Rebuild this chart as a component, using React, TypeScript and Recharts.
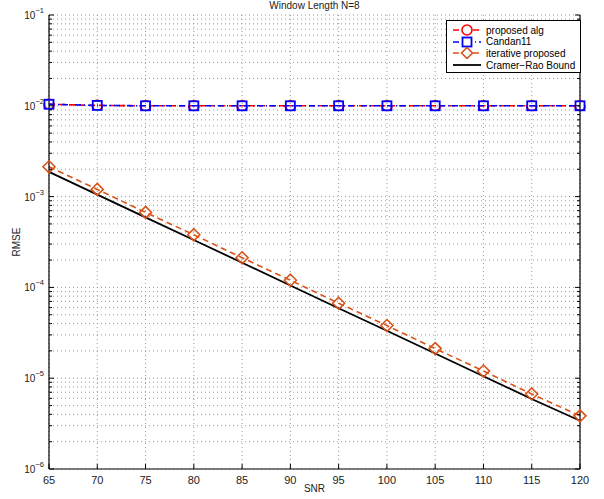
import React from 'react';
import { LineChart, Line, XAxis, YAxis, CartesianGrid } from 'recharts';

document.body.style.margin = '0';

const snr = [65, 70, 75, 80, 85, 90, 95, 100, 105, 110, 115, 120];
const proposedAlg = [1.04e-2, 1.01e-2, 1.0e-2, 1.0e-2, 1.0e-2, 1.0e-2, 1.0e-2, 1.0e-2, 1.0e-2, 1.0e-2, 1.0e-2, 1.0e-2];
const candan11 = [1.04e-2, 1.01e-2, 1.0e-2, 1.0e-2, 1.0e-2, 1.0e-2, 1.0e-2, 1.0e-2, 1.0e-2, 1.0e-2, 1.0e-2, 1.0e-2];
const iterativeProposed = [2.13e-3, 1.2e-3, 6.7e-4, 3.8e-4, 2.12e-4, 1.2e-4, 6.7e-5, 3.8e-5, 2.12e-5, 1.2e-5, 6.7e-6, 3.85e-6];
const crb = [1.87e-3, 1.05e-3, 5.9e-4, 3.33e-4, 1.87e-4, 1.05e-4, 5.9e-5, 3.33e-5, 1.87e-5, 1.05e-5, 5.9e-6, 3.4e-6];

const xTicks = [65, 70, 75, 80, 85, 90, 95, 100, 105, 110, 115, 120];
const decades = [1e-6, 1e-5, 1e-4, 1e-3, 1e-2, 1e-1];
const minorSteps = [1, 2, 3, 4, 5, 6, 7, 8, 9];
const yTicks = decades
  .flatMap((d) => minorSteps.map((m) => m * d))
  .filter((v) => v <= 1e-1 * 1.0001);

const RED = '#ff0000';
const BLUE = '#0000ff';
const ORANGE = '#d95319';
const FONT = '"Liberation Sans", Arial, Helvetica, sans-serif';

const data = snr.map((s, i) => ({
  snr: s,
  proposed: proposedAlg[i],
  candan: candan11[i],
  iterative: iterativeProposed[i],
  crb: crb[i],
}));

const isDecade = (v: number) => {
  const l = Math.log10(v);
  return Math.abs(l - Math.round(l)) < 1e-6;
};

const LeftTick = (props: any) => {
  const { x, y, payload } = props;
  const v = payload.value;
  const major = isDecade(v);
  const exp = Math.round(Math.log10(v));
  return (
    <g>
      <line x1={x} x2={x + (major ? 5 : 3)} y1={y} y2={y} stroke="#000" strokeWidth={1} />
      {major && (
        <text x={x - 5} y={y + 4} textAnchor="end" fontSize={10} fill="#222" fontFamily={FONT}>
          10
          <tspan dy={-6} fontSize={7.5}>{`\u2212${-exp}`}</tspan>
        </text>
      )}
    </g>
  );
};

const RightTick = (props: any) => {
  const { x, y, payload } = props;
  const major = isDecade(payload.value);
  return <line x1={x - (major ? 5 : 3)} x2={x} y1={y} y2={y} stroke="#000" strokeWidth={1} />;
};

const BottomTick = (props: any) => {
  const { x, y, payload } = props;
  return (
    <g>
      <line x1={x} x2={x} y1={y} y2={y - 5} stroke="#000" strokeWidth={1} />
      <text x={x} y={y + 15} textAnchor="middle" fontSize={11} fill="#222" fontFamily={FONT}>
        {payload.value}
      </text>
    </g>
  );
};

const TopTick = (props: any) => {
  const { x, y } = props;
  return <line x1={x} x2={x} y1={y} y2={y + 5} stroke="#000" strokeWidth={1} />;
};

const SquareDot = (props: any) => {
  const { cx, cy, index } = props;
  if (cx == null || cy == null) return <g key={index} />;
  return <rect key={index} x={cx - 4.5} y={cy - 4.5} width={9} height={9} fill="none" stroke={BLUE} strokeWidth={1.8} />;
};

const DiamondDot = (props: any) => {
  const { cx, cy, index } = props;
  if (cx == null || cy == null) return <g key={index} />;
  return (
    <path
      key={index}
      d={`M${cx},${cy - 6} L${cx + 6},${cy} L${cx},${cy + 6} L${cx - 6},${cy} Z`}
      fill="none"
      stroke={ORANGE}
      strokeWidth={1.6}
    />
  );
};

const legendItems = [
  { label: 'proposed alg', color: RED, dash: '6 4', marker: 'circle' },
  { label: 'Candan11', color: BLUE, dash: '6 3 1 3', marker: 'square' },
  { label: 'iterative proposed', color: ORANGE, dash: '6 4', marker: 'diamond' },
  { label: 'Cramer\u2212Rao Bound', color: '#000', dash: undefined, marker: 'none' },
];

const LegendBox = () => (
  <div
    style={{
      position: 'absolute',
      left: 446,
      top: 20,
      width: 133,
      height: 51,
      background: '#fff',
      border: '1px solid #000',
      fontFamily: FONT,
      fontSize: 10,
    }}
  >
    {legendItems.map((it, i) => (
      <div key={it.label} style={{ position: 'absolute', left: 0, top: 3 + i * 11.7, height: 12, display: 'flex', alignItems: 'center' }}>
        <svg width={36} height={12} style={{ display: 'block' }}>
          <line x1={6} x2={34} y1={6} y2={6} stroke={it.color} strokeWidth={it.marker === 'none' ? 1.8 : 1.6} strokeDasharray={it.dash} />
          {it.marker === 'circle' && <circle cx={20} cy={6} r={5} fill="#fff" stroke={it.color} strokeWidth={1.6} />}
          {it.marker === 'square' && <rect x={15.5} y={1.5} width={9} height={9} fill="#fff" stroke={it.color} strokeWidth={1.8} />}
          {it.marker === 'diamond' && <path d="M20,0.5 L25.5,6 L20,11.5 L14.5,6 Z" fill="#fff" stroke={it.color} strokeWidth={1.6} />}
        </svg>
        <span style={{ marginLeft: 3, color: '#000', whiteSpace: 'nowrap' }}>{it.label}</span>
      </div>
    ))}
  </div>
);

export default function App() {
  return (
    <div style={{ position: 'relative', width: 604, height: 499, background: '#fff', fontFamily: FONT }}>
      <LineChart width={604} height={499} data={data} margin={{ top: 15, right: 0, bottom: 0, left: 0 }}>
        <CartesianGrid
          xAxisId="bottom"
          yAxisId="left"
          stroke="#9a9a9a"
          strokeDasharray="1 3"
          horizontalValues={yTicks}
          verticalValues={xTicks}
        />
        <XAxis
          xAxisId="bottom"
          dataKey="snr"
          type="number"
          domain={[65, 120]}
          ticks={xTicks}
          height={30}
          tickSize={0}
          tickMargin={0}
          tickLine={false}
          axisLine={{ stroke: '#000', strokeWidth: 1.2 }}
          tick={<BottomTick />}
          interval={0}
        />
        <XAxis
          xAxisId="top"
          orientation="top"
          dataKey="snr"
          type="number"
          domain={[65, 120]}
          ticks={xTicks}
          height={0}
          tickSize={0}
          tickMargin={0}
          tickLine={false}
          axisLine={{ stroke: '#000', strokeWidth: 1.2 }}
          tick={<TopTick />}
          interval={0}
        />
        <YAxis
          yAxisId="left"
          scale="log"
          type="number"
          domain={[1e-6, 1e-1]}
          ticks={yTicks}
          allowDataOverflow
          width={49}
          tickSize={0}
          tickMargin={0}
          tickLine={false}
          axisLine={{ stroke: '#000', strokeWidth: 1.2 }}
          tick={<LeftTick />}
          interval={0}
        />
        <YAxis
          yAxisId="right"
          orientation="right"
          scale="log"
          type="number"
          domain={[1e-6, 1e-1]}
          ticks={yTicks}
          allowDataOverflow
          width={24}
          tickSize={0}
          tickMargin={0}
          tickLine={false}
          axisLine={{ stroke: '#000', strokeWidth: 1.2 }}
          tick={<RightTick />}
          interval={0}
        />
        <Line
          xAxisId="bottom"
          yAxisId="left"
          dataKey="proposed"
          stroke={RED}
          strokeWidth={1.6}
          strokeDasharray="6 4"
          dot={{ r: 5, stroke: RED, fill: 'none', strokeWidth: 1.6 }}
          isAnimationActive={false}
        />
        <Line
          xAxisId="bottom"
          yAxisId="left"
          dataKey="candan"
          stroke={BLUE}
          strokeWidth={1.6}
          strokeDasharray="6 3 1 3"
          dot={<SquareDot />}
          isAnimationActive={false}
        />
        <Line
          xAxisId="bottom"
          yAxisId="left"
          dataKey="crb"
          stroke="#000"
          strokeWidth={1.8}
          dot={false}
          isAnimationActive={false}
        />
        <Line
          xAxisId="bottom"
          yAxisId="left"
          dataKey="iterative"
          stroke={ORANGE}
          strokeWidth={1.6}
          strokeDasharray="6 4"
          dot={<DiamondDot />}
          isAnimationActive={false}
        />
      </LineChart>
      <div style={{ position: 'absolute', left: 49, width: 531, top: 0, textAlign: 'center', fontSize: 10, lineHeight: '12px', color: '#222' }}>
        Window Length N=8
      </div>
      <div style={{ position: 'absolute', left: 49, width: 531, top: 483, textAlign: 'center', fontSize: 10, lineHeight: '12px', color: '#222' }}>
        SNR
      </div>
      <div
        style={{
          position: 'absolute',
          left: 17,
          top: 242,
          transform: 'translate(-50%, -50%) rotate(-90deg)',
          fontSize: 10,
          lineHeight: '12px',
          color: '#222',
          whiteSpace: 'nowrap',
        }}
      >
        RMSE
      </div>
      <LegendBox />
    </div>
  );
}
